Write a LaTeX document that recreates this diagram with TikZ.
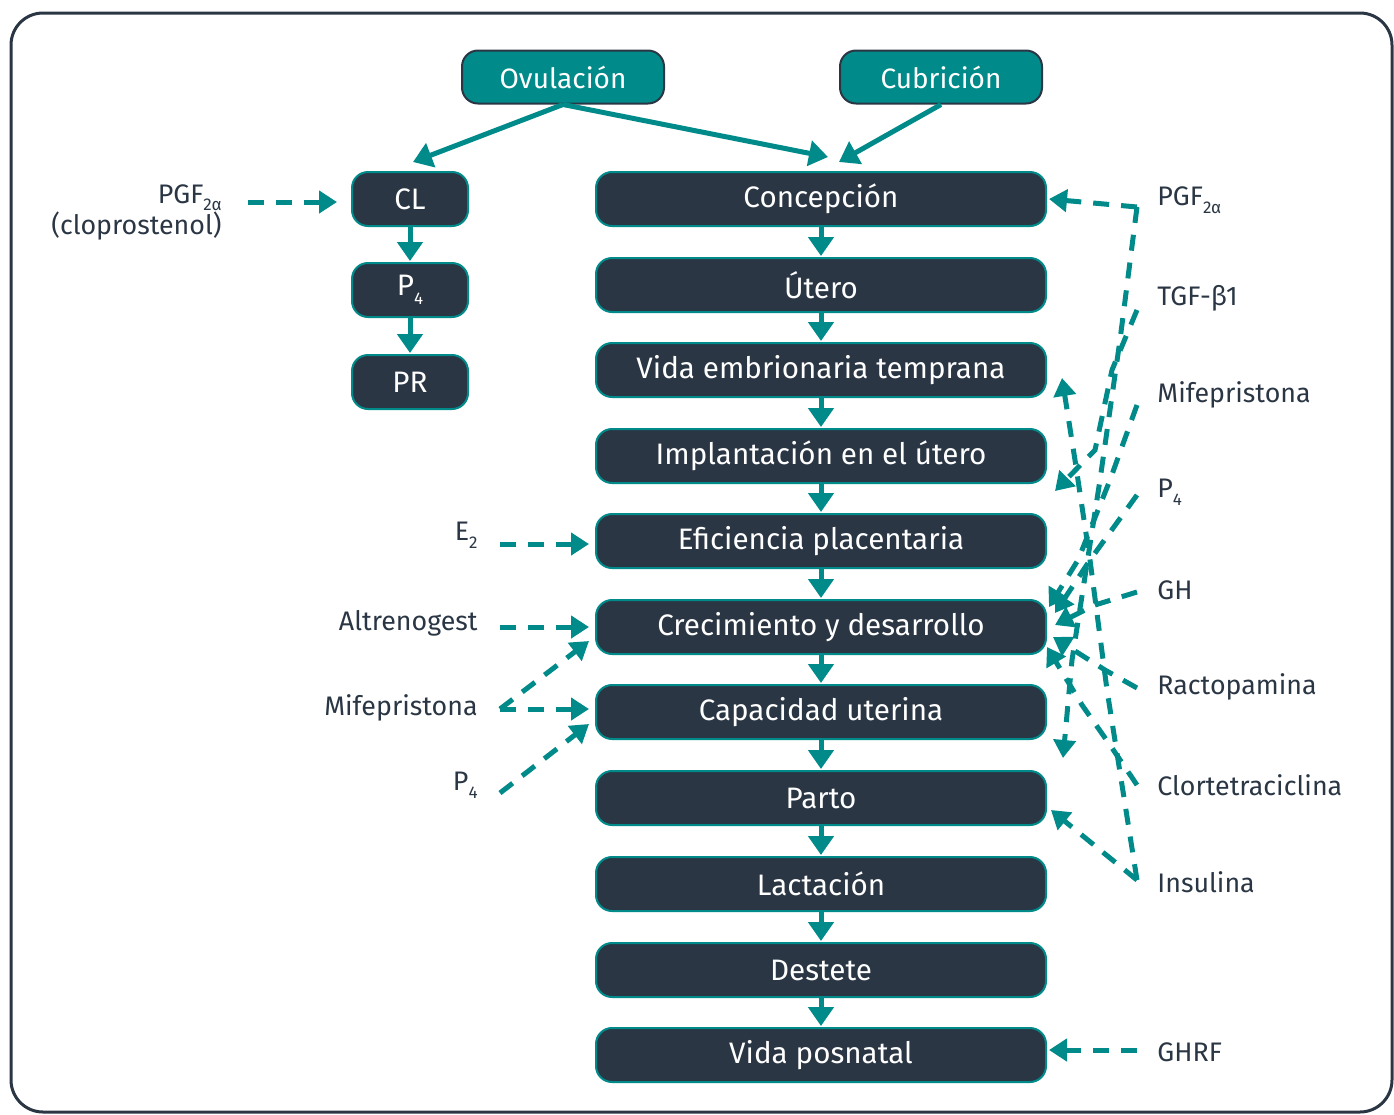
\documentclass[tikz,border=0pt]{standalone}
\usepackage{fontspec}
\setmainfont{Fira Sans}
\usetikzlibrary{arrows.meta}
\definecolor{tealc}{HTML}{008B8A}
\definecolor{darkc}{HTML}{2A3644}
\newcommand{\lowsub}[1]{\raisebox{-0.55ex}{\fontsize{8.5}{9}\selectfont #1}}
\begin{document}
\begin{tikzpicture}[x=0.5pt,y=-0.5pt,
  mainbox/.style={draw=tealc, line width=1pt, fill=darkc, rounded corners=8pt, text=white,
    minimum width=225pt, minimum height=27pt, inner sep=0pt, font=\fontsize{14.8}{16}\selectfont},
  smallbox/.style={mainbox, minimum width=58pt},
  topbox/.style={draw=darkc, line width=1pt, fill=tealc, rounded corners=8pt, text=white,
    minimum width=101pt, minimum height=26.5pt, inner sep=0pt, font=\fontsize{14}{16}\selectfont},
  flow/.style={draw=tealc, line width=2.5pt, -{Triangle[width=12.5pt,length=9.5pt]}},
  infl/.style={draw=tealc, line width=2.5pt, dash pattern=on 8pt off 6pt, -{Triangle[width=11pt,length=9pt]}},
  lab/.style={text=darkc, inner sep=0pt, font=\fontsize{13.4}{15.5}\selectfont},
]
\useasboundingbox (0,0) rectangle (1394,1115);
\draw[darkc, line width=1.5pt, rounded corners=16pt] (11,13) rectangle (1392,1112);

% top boxes
\node[topbox] (ov) at (563,77) {Ovulación};
\node[topbox] (cu) at (941,77) {Cubrición};

% left column
\node[smallbox] (cl) at (410,199) {CL};
\node[smallbox] (p4b) at (410,290) {P\lowsub{4}};
\node[smallbox] (pr) at (410,382) {PR};

% main column
\node[mainbox] (c1) at (821,199) {Concepción};
\node[mainbox] (c2) at (821,285) {Útero};
\node[mainbox] (c3) at (821,370) {Vida embrionaria temprana};
\node[mainbox] (c4) at (821,456) {Implantación en el útero};
\node[mainbox] (c5) at (821,541) {Eficiencia placentaria};
\node[mainbox] (c6) at (821,627) {Crecimiento y desarrollo};
\node[mainbox] (c7) at (821,712) {Capacidad uterina};
\node[mainbox] (c8) at (821,798) {Parto};
\node[mainbox] (c9) at (821,884) {Lactación};
\node[mainbox] (c10) at (821,970) {Destete};
\node[mainbox] (c11) at (821,1055) {Vida posnatal};

% flow arrows
\foreach \a/\b in {c1/c2,c2/c3,c3/c4,c4/c5,c5/c6,c6/c7,c7/c8,c8/c9,c9/c10,c10/c11,cl/p4b,p4b/pr}
  \draw[flow, shorten >=0.5pt] (\a.south) -- (\b.north);
\draw[flow] (ov.south) -- ([shift={(3,-9)}]cl.north);
\draw[flow] (ov.south) -- ([shift={(7,-14)}]c1.north);
\draw[flow] (cu.south) -- ([shift={(18,-9)}]c1.north);

% left labels
\node[lab, align=right, anchor=east] (lpgf) at (222,212) {PGF\lowsub{2α}\\(cloprostenol)};
\node[lab, anchor=east] (le2) at (478,535) {E\lowsub{2}};
\node[lab, anchor=east] (lalt) at (478,623) {Altrenogest};
\node[lab, anchor=east] (lmif) at (478,708) {Mifepristona};
\node[lab, anchor=east] (lp4) at (478,785) {P\lowsub{4}};

\coordinate (spgf) at (248,202);
\coordinate (se2) at (500,544);
\coordinate (salt) at (500,627);
\coordinate (smif) at (500,709);
\coordinate (sp4) at (500,793);
\draw[infl] (spgf) -- ([xshift=-7pt]cl.west |- spgf);
\draw[infl] (se2) -- ([xshift=-3pt]c5.west |- se2);
\draw[infl] (salt) -- ([xshift=-3pt]c6.west |- salt);
\draw[infl] (smif) -- ([xshift=-3pt]c7.west |- smif);
\draw[infl] (smif) -- ([shift={(-6,14)}]c6.west);
\draw[infl] (sp4) -- ([shift={(-6,12)}]c7.west);

% right labels
\node[lab, anchor=west] (rpgf) at (1157,200) {PGF\lowsub{2α}};
\node[lab, anchor=west] (rtgf) at (1157,298) {TGF-β1};
\node[lab, anchor=west] (rmif) at (1157,395) {Mifepristona};
\node[lab, anchor=west] (rp4) at (1157,492) {P\lowsub{4}};
\node[lab, anchor=west] (rgh) at (1157,590) {GH};
\node[lab, anchor=west] (rrac) at (1157,687) {Ractopamina};
\node[lab, anchor=west] (rclo) at (1157,785) {Clortetraciclina};
\node[lab, anchor=west] (rins) at (1157,882) {Insulina};
\node[lab, anchor=west] (rghrf) at (1157,1052) {GHRF};

\coordinate (tpgf) at (1137,207);
\coordinate (ttgf) at (1137,310);
\coordinate (tmif) at (1137,405);
\coordinate (tp4) at (1137,495);
\coordinate (tgh) at (1137,592);
\coordinate (trac) at (1137,688);
\coordinate (tclo) at (1137,785);
\coordinate (tins) at (1137,880);
\coordinate (tghrf) at (1137,1050);

\draw[infl] (tpgf) -- ([xshift=1pt]c1.east);
\draw[infl] (tpgf) -- (1120,340) -- (1100,480) -- (1072,660) -- ([shift={(16,-12)}]c8.north east);
\draw[infl] (ttgf) -- (1112,370) -- (1095,450) -- ([shift={(8,-22)}]c5.north east);
\draw[infl] (tmif) -- (1110,480) -- (1078,560) -- ([shift={(2,-20)}]c6.east);
\draw[infl] (tp4) -- (1090,560) -- ([shift={(8,-14)}]c6.east);
\draw[infl] (tgh) -- (1095,605) -- ([shift={(8,-2)}]c6.east);
\draw[infl] (trac) -- (1105,670) -- ([shift={(6,10)}]c6.east);
\draw[infl] (tclo) -- (1110,745) -- (1082,705) -- ([shift={(0,20)}]c6.east);
\draw[infl] (tins) -- ([shift={(4,12)}]c8.east);
\draw[infl] (tins) -- (1107,690) -- (1090,560) -- (1075,460) -- ([shift={(15,8)}]c3.east);
\draw[infl] (tghrf) -- ([xshift=1pt]c11.east |- tghrf);
\end{tikzpicture}
\end{document}
